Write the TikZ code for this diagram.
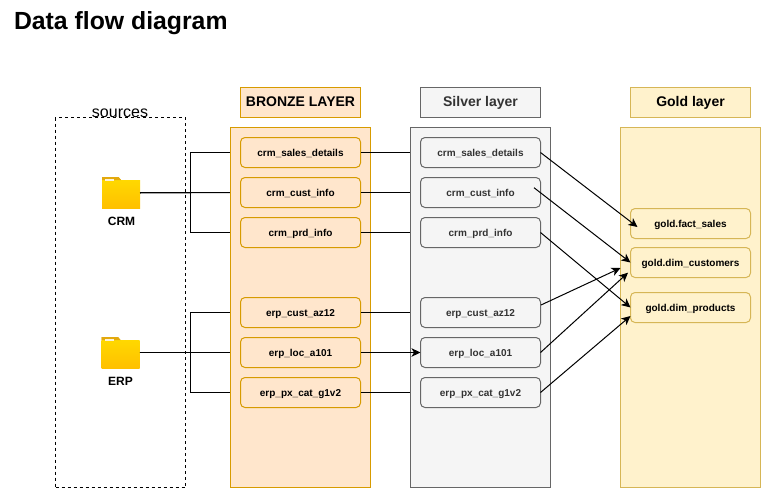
\documentclass[tikz,border=0pt]{standalone}
\usepackage{fontspec}
\setmainfont{Liberation Sans}
\usetikzlibrary{arrows.meta,calc}
\definecolor{bfill}{HTML}{FFE6CC}\definecolor{bline}{HTML}{D79B00}
\definecolor{sfill}{HTML}{F5F5F5}\definecolor{sline}{HTML}{666666}\definecolor{stext}{HTML}{333333}
\definecolor{gfill}{HTML}{FFF2CC}\definecolor{gline}{HTML}{D6B656}
\definecolor{ftop}{HTML}{FFD800}\definecolor{fbot}{HTML}{FFC000}\definecolor{ftab}{HTML}{E3A90D}
\tikzset{
  every node/.style={inner sep=0pt,outer sep=0pt},
  panel/.style={draw,line width=1pt,minimum width=140pt,minimum height=360pt},
  headbox/.style={draw,line width=1pt,minimum width=120pt,minimum height=30pt,font=\fontsize{14}{16}\selectfont\bfseries,text height=10pt,text depth=1.5pt},
  tbl/.style={draw,line width=1pt,rounded corners=4.5pt,minimum width=120pt,minimum height=30pt,font=\fontsize{10}{12}\selectfont\bfseries,text height=8pt,text depth=1pt},
  bronze/.style={fill=bfill,draw=bline},
  silver/.style={fill=sfill,draw=sline,text=stext},
  gold/.style={fill=gfill,draw=gline},
  flow/.style={line width=1pt,draw=black},
  flowa/.style={flow,-{Stealth[length=9pt,width=8.5pt,inset=2.5pt]}},
  folderbox/.style={minimum width=38pt,minimum height=31pt},
  srclabel/.style={font=\fontsize{12}{14}\selectfont\bfseries},
}
\newcommand{\folderart}[1]{%
  \fill[ftab] (#1.north west) -- ++(16.5,0) -- ++(2.5,3) -- ++(0,4) -- ++(-19,0) -- cycle;
  \shade[top color=ftop,bottom color=fbot] ($(#1.north west)+(0,3)$) rectangle (#1.south east);
  \fill[ftab] (#1.north west) -- ++(16.5,0) -- ++(2.5,3) -- ++(-19,0) -- cycle;
  \fill[white!85!ftab] ($(#1.north west)+(3,2.2)$) rectangle ++(9,1.6);
}
\begin{document}
\begin{tikzpicture}[x=1pt,y=-1pt]
\useasboundingbox (0,0) rectangle (761,488);
\node[anchor=west,font=\fontsize{24.8}{28}\selectfont\bfseries] (title) at (14,23) {Data flow diagram};
\node[draw,dashed,line width=1pt,minimum width=130pt,minimum height=370pt] (src) at (120.5,302.5) {};
\node[font=\fontsize{16}{18}\selectfont] (srct) at (120,113) {sources};
\node[folderbox] (crm) at (121,192.5) {};
\node[folderbox] (erp) at (120.5,352.5) {};
\folderart{crm}
\folderart{erp}
\node[srclabel] (crml) at (121.5,221.5) {CRM};
\node[srclabel] (erpl) at (120.5,381) {ERP};
% source connectors run under the bronze panel
\coordinate (b1w) at (240.5,152.5);
\coordinate (b2w) at (240.5,192.5);
\coordinate (b3w) at (240.5,232.5);
\coordinate (b4w) at (240.5,312.5);
\coordinate (b5w) at (240.5,352.5);
\coordinate (b6w) at (240.5,392.5);
\draw[flow] (crm.east) -- (190.5,192.5) |- (b1w);
\draw[flow] (crm.east) -- (190.5,192.5) |- (b3w);
\draw[flow] ($(crm.east)+(0,.5)$) -- (b2w);
\draw[flow] (erp.east) -- (190.5,352.5) |- (b4w);
\draw[flow] (erp.east) -- (190.5,352.5) |- (b6w);
\draw[flow] (erp.east) -- (b5w);
% bronze
\node[headbox,bronze] (bh) at (300.5,102.5) {BRONZE LAYER};
\node[panel,bronze] (bp) at (300.5,307.5) {};
\node[tbl,bronze] (b1) at (300.5,152.5) {crm\_sales\_details};
\node[tbl,bronze] (b2) at (300.5,192.5) {crm\_cust\_info};
\node[tbl,bronze] (b3) at (300.5,232.5) {crm\_prd\_info};
\node[tbl,bronze] (b4) at (300.5,312.5) {erp\_cust\_az12};
\node[tbl,bronze] (b5) at (300.5,352.5) {erp\_loc\_a101};
\node[tbl,bronze] (b6) at (300.5,392.5) {erp\_px\_cat\_g1v2};
% bronze to silver connectors run under the silver panel
\coordinate (s1w) at (420.5,152.5);
\coordinate (s2w) at (420.5,192.5);
\coordinate (s3w) at (420.5,232.5);
\coordinate (s4w) at (420.5,312.5);
\coordinate (s6w) at (420.5,392.5);
\draw[flow] (b1.east) -- (s1w);
\draw[flow] (b2.east) -- (s2w);
\draw[flow] (b3.east) -- (s3w);
\draw[flow] (b4.east) -- (s4w);
\draw[flow] (b6.east) -- (s6w);
% silver
\node[headbox,silver] (sh) at (480.5,102.5) {Silver layer};
\node[panel,silver] (sp) at (480.5,307.5) {};
\node[tbl,silver] (s1) at (480.5,152.5) {crm\_sales\_details};
\node[tbl,silver] (s2) at (480.5,192.5) {crm\_cust\_info};
\node[tbl,silver] (s3) at (480.5,232.5) {crm\_prd\_info};
\node[tbl,silver] (s4) at (480.5,312.5) {erp\_cust\_az12};
\node[tbl,silver] (s5) at (480.5,352.5) {erp\_loc\_a101};
\node[tbl,silver] (s6) at (480.5,392.5) {erp\_px\_cat\_g1v2};
% gold
\node[headbox,gold] (gh) at (690.5,102.5) {Gold layer};
\node[panel,gold] (gp) at (690.5,307.5) {};
\node[tbl,gold] (g1) at (690.5,223.5) {gold.fact\_sales};
\node[tbl,gold] (g2) at (690.5,262.5) {gold.dim\_customers};
\node[tbl,gold] (g3) at (690.5,307.5) {gold.dim\_products};
% connectors over the panels
\draw[flowa] (b5.east) -- (s5.west);
\coordinate (t1) at (637.5,227);
\coordinate (f2) at (534,187.7);
\coordinate (f4) at (541,305);
\coordinate (t4) at (620.5,268);
\coordinate (t5) at (628,272.7);
\coordinate (t6) at (630.5,316);
\draw[flowa] (s1.east) -- (t1);
\draw[flowa] (f2) -- (g2.west);
\draw[flowa] (s3.east) -- (g3.west);
\draw[flowa] (f4) -- (t4);
\draw[flowa] (s5.east) -- (t5);
\draw[flowa] (s6.east) -- (t6);
\end{tikzpicture}
\end{document}
